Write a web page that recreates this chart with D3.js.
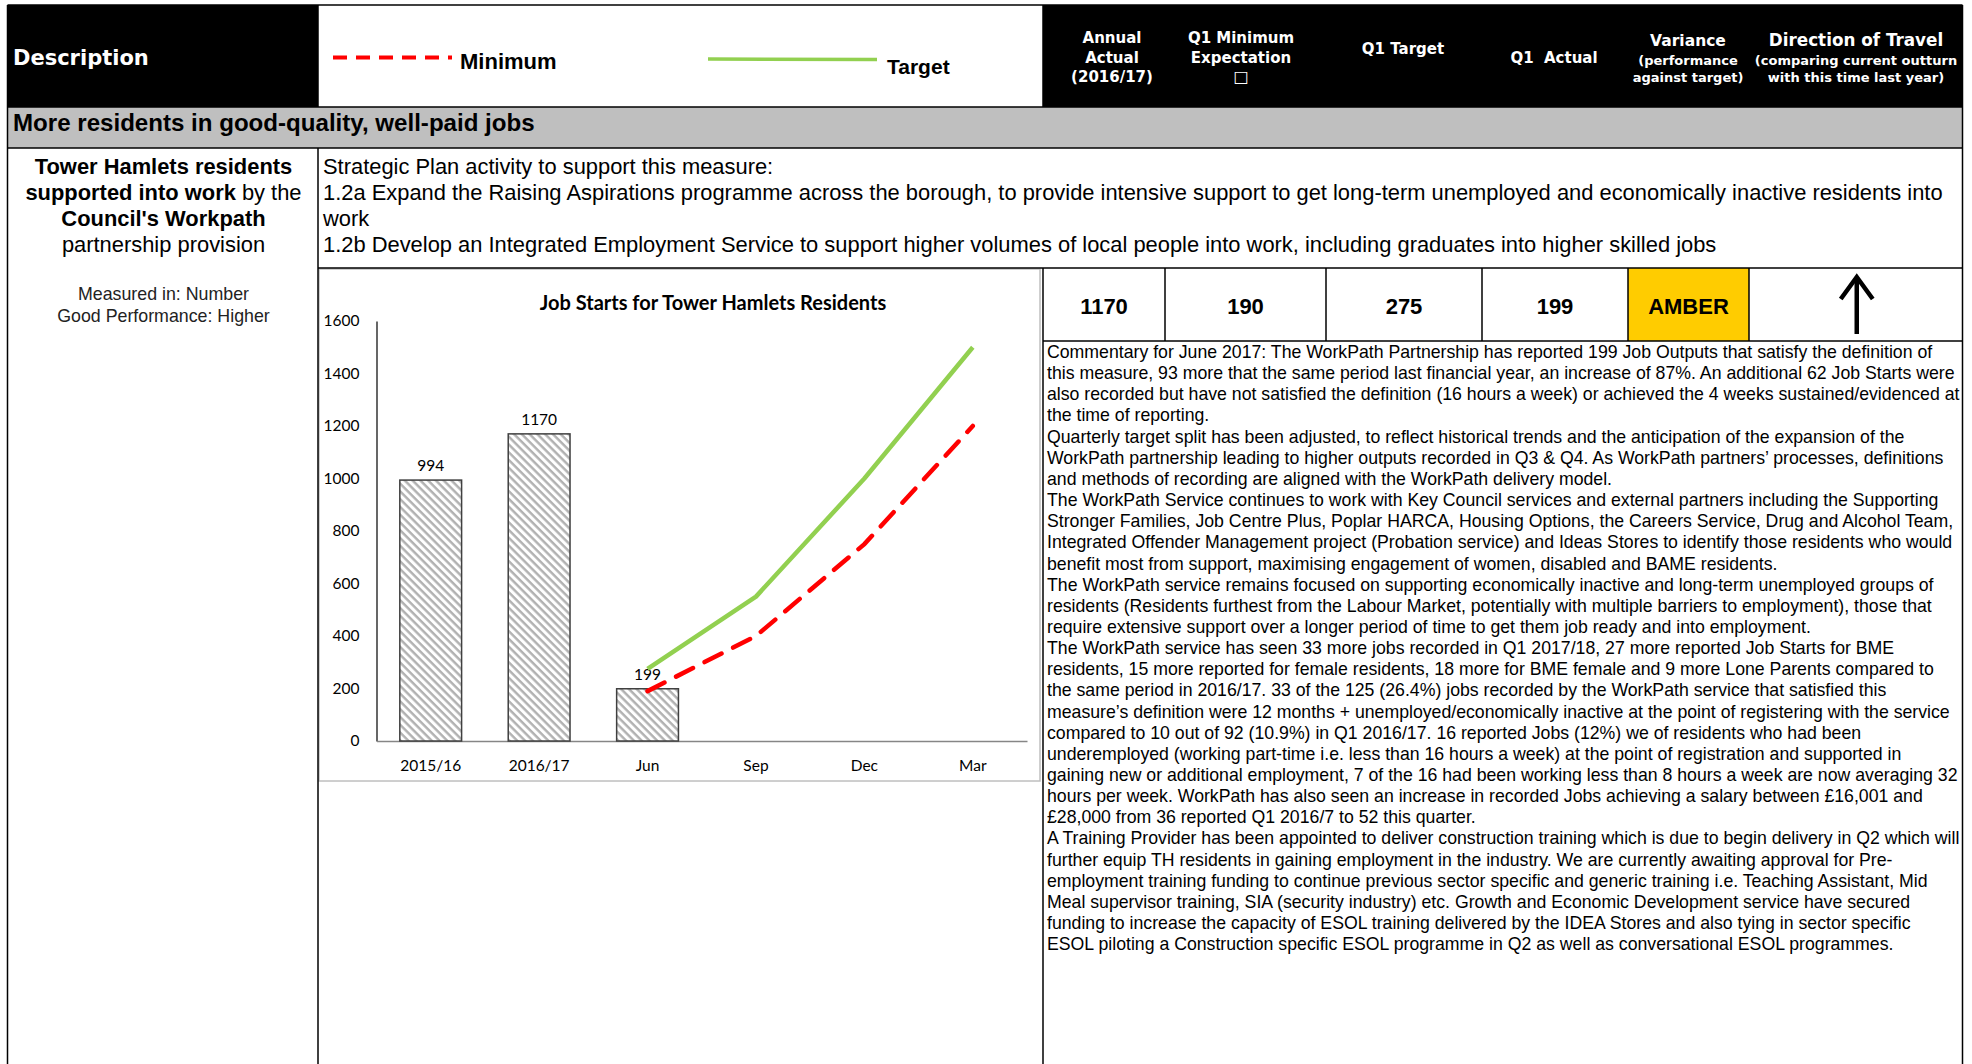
<!DOCTYPE html>
<html><head><meta charset="utf-8">
<script src="https://d3js.org/d3.v7.min.js"></script>
<style>
html,body{margin:0;padding:0;background:#fff;}
svg{display:block;}
</style></head>
<body>
<svg id="page" width="1972" height="1064"></svg>
<script>
// ---------- DATA ----------
const categories = ["2015/16", "2016/17", "Jun", "Sep", "Dec", "Mar"];
const actualValues = [994, 1170, 199, null, null, null];
const targetValues = [null, null, 275, 550, 1000, 1500];
const minimumValues = [null, null, 190, 400, 750, 1200];
const yTicks = [0, 200, 400, 600, 800, 1000, 1200, 1400, 1600];
const chartTitle = "Job Starts for Tower Hamlets Residents";

const metricValues = ["1170", "190", "275", "199", "AMBER"];

const commentaryLines = [
"Commentary for June 2017: The WorkPath Partnership has reported 199 Job Outputs that satisfy the definition of",
"this measure, 93 more that the same period last financial year, an increase of 87%. An additional 62 Job Starts were",
"also recorded but have not satisfied the definition (16 hours a week) or achieved the 4 weeks sustained/evidenced at",
"the time of reporting.",
"Quarterly target split has been adjusted, to reflect historical trends and the anticipation of the expansion of the",
"WorkPath partnership leading to higher outputs recorded in Q3 & Q4. As WorkPath partners\u2019 processes, definitions",
"and methods of recording are aligned with the WorkPath delivery model.",
"The WorkPath Service continues to work with Key Council services and external partners including the Supporting",
"Stronger Families, Job Centre Plus, Poplar HARCA, Housing Options, the Careers Service, Drug and Alcohol Team,",
"Integrated Offender Management project (Probation service) and Ideas Stores to identify those residents who would",
"benefit most from support, maximising engagement of women, disabled and BAME residents.",
"The WorkPath service remains focused on supporting economically inactive and long-term unemployed groups of",
"residents (Residents furthest from the Labour Market, potentially with multiple barriers to employment), those that",
"require extensive support over a longer period of time to get them job ready and into employment.",
"The WorkPath service has seen 33 more jobs recorded in Q1 2017/18, 27 more reported Job Starts for BME",
"residents, 15 more reported for female residents, 18 more for BME female and 9 more Lone Parents compared to",
"the same period in 2016/17. 33 of the 125 (26.4%) jobs recorded by the WorkPath service that satisfied this",
"measure\u2019s definition were 12 months + unemployed/economically inactive at the point of registering with the service",
"compared to 10 out of 92 (10.9%) in Q1 2016/17. 16 reported Jobs (12%) we of residents who had been",
"underemployed (working part-time i.e. less than 16 hours a week) at the point of registration and supported in",
"gaining new or additional employment, 7 of the 16 had been working less than 8 hours a week are now averaging 32",
"hours per week. WorkPath has also seen an increase in recorded Jobs achieving a salary between \u00a316,001 and",
"\u00a328,000 from 36 reported Q1 2016/7 to 52 this quarter.",
"A Training Provider has been appointed to deliver construction training which is due to begin delivery in Q2 which will",
"further equip TH residents in gaining employment in the industry. We are currently awaiting approval for Pre-",
"employment training funding to continue previous sector specific and generic training i.e. Teaching Assistant, Mid",
"Meal supervisor training, SIA (security industry) etc. Growth and Economic Development service have secured",
"funding to increase the capacity of ESOL training delivered by the IDEA Stores and also tying in sector specific",
"ESOL piloting a Construction specific ESOL programme in Q2 as well as conversational ESOL programmes."
];

const strategicLines = [
"Strategic Plan activity to support this measure:",
"1.2a Expand the Raising Aspirations programme across the borough, to provide intensive support to get long-term unemployed and economically inactive residents into",
"work",
"1.2b Develop an Integrated Employment Service to support higher volumes of local people into work, including graduates into higher skilled jobs"
];

// ---------- PAGE ----------
const svg = d3.select("#page");
const ARIAL = "'Liberation Sans', Arial, sans-serif";
const VERD = "'DejaVu Sans', Verdana, sans-serif";
const CAL = "Lato, 'Open Sans', sans-serif";

const L = 7.5, R = 1962.5, T = 5;
const xDesc = 318, xRight = 1043;
const yHead = 107, yBand = 148, yStrat = 268, yMetric = 341;

// header backgrounds
svg.append("rect").attr("x", L).attr("y", T).attr("width", xDesc - L).attr("height", yHead - T).attr("fill", "#000");
svg.append("rect").attr("x", xRight).attr("y", T).attr("width", R - xRight).attr("height", yHead - T).attr("fill", "#000");
svg.append("rect").attr("x", L).attr("y", yHead).attr("width", R - L).attr("height", yBand - yHead).attr("fill", "#bfbfbf");

svg.append("text").attr("x", 13).attr("y", 65).attr("fill", "#fff")
  .style("font-family", VERD).style("font-weight", "bold").style("font-size", "21px").text("Description");

// legend inside header
svg.append("line").attr("x1", 333).attr("x2", 452).attr("y1", 57.5).attr("y2", 57.5)
  .attr("stroke", "#ff0000").attr("stroke-width", 4).attr("stroke-dasharray", "14 9");
svg.append("text").attr("x", 460).attr("y", 69).style("font-family", ARIAL).style("font-weight", "bold")
  .style("font-size", "22px").text("Minimum");
svg.append("line").attr("x1", 708).attr("x2", 877).attr("y1", 59).attr("y2", 59.5)
  .attr("stroke", "#92d050").attr("stroke-width", 3.5);
svg.append("text").attr("x", 887).attr("y", 74).style("font-family", ARIAL).style("font-weight", "bold")
  .style("font-size", "21px").text("Target");

// metric column headers
const cellX = [1043, 1165, 1326, 1482, 1628, 1749, 1962.5];
const hdr = [
  {lines: [["Annual", 15], ["Actual", 15], ["(2016/17)", 15]], ys: [43, 63, 82]},
  {lines: [["Q1 Minimum", 15], ["Expectation", 15], ["\u25a1", 16]], ys: [43, 63, 82]},
  {lines: [["Q1 Target", 15]], ys: [54]},
  {lines: [["Q1  Actual", 15]], ys: [63]},
  {lines: [["Variance", 15.5], ["(performance", 13], ["against target)", 13]], ys: [46, 65, 82]},
  {lines: [["Direction of Travel", 16.8], ["(comparing current outturn", 13], ["with this time last year)", 13]], ys: [46, 65, 82]}
];
const hdrCx = [1112, 1241, 1403, 1554, 1688, 1856];
hdr.forEach((h, i) => {
  h.lines.forEach((ln, j) => {
    svg.append("text").attr("x", hdrCx[i]).attr("y", h.ys[j]).attr("text-anchor", "middle")
      .attr("fill", "#fff").style("font-family", VERD).style("font-weight", "bold")
      .style("font-size", ln[1] + "px").style("white-space", "pre").attr("xml:space", "preserve").text(ln[0]);
  });
});

// section title
svg.append("text").attr("x", 13).attr("y", 131).style("font-family", ARIAL).style("font-weight", "bold")
  .style("font-size", "24.1px").text("More residents in good-quality, well-paid jobs");

// left column description
const leftCx = 163.5;
const leftText = [
  [["Tower Hamlets residents", true]],
  [["supported into work", true], [" by the", false]],
  [["Council's Workpath", true]],
  [["partnership provision", false]]
];
leftText.forEach((parts, i) => {
  const t = svg.append("text").attr("x", leftCx).attr("y", 174 + i * 26).attr("text-anchor", "middle")
    .style("font-family", ARIAL).style("font-size", "21.9px").attr("xml:space", "preserve");
  parts.forEach(p => t.append("tspan").style("font-weight", p[1] ? "bold" : "normal").text(p[0]));
});
["Measured in: Number", "Good Performance: Higher"].forEach((s, i) => {
  svg.append("text").attr("x", leftCx).attr("y", 300 + i * 21.5).attr("text-anchor", "middle")
    .style("font-family", ARIAL).style("font-size", "17.8px").attr("fill", "#222").text(s);
});

// strategic plan text
strategicLines.forEach((s, i) => {
  svg.append("text").attr("x", 323).attr("y", 174 + i * 26)
    .style("font-family", ARIAL).style("font-size", "21.9px").text(s);
});

// metrics row
svg.append("rect").attr("x", cellX[4]).attr("y", yStrat).attr("width", cellX[5] - cellX[4]).attr("height", yMetric - yStrat)
  .attr("fill", "#ffcc00");
metricValues.forEach((v, i) => {
  svg.append("text").attr("x", (cellX[i] + cellX[i + 1]) / 2).attr("y", 313.5).attr("text-anchor", "middle")
    .style("font-family", ARIAL).style("font-weight", "bold").style("font-size", "22px").text(v);
});
// direction arrow
const ax = (cellX[5] + cellX[6]) / 2 + 1;
svg.append("line").attr("x1", ax).attr("x2", ax).attr("y1", 277).attr("y2", 334).attr("stroke", "#000").attr("stroke-width", 4.5);
svg.append("path").attr("d", `M${ax - 16},${299} L${ax},${277} L${ax + 16},${299}`)
  .attr("fill", "none").attr("stroke", "#000").attr("stroke-width", 4.5).attr("stroke-linejoin", "miter");

// commentary
commentaryLines.forEach((s, i) => {
  svg.append("text").attr("x", 1047).attr("y", 358 + i * 21.15)
    .style("font-family", ARIAL).style("font-size", "17.7px").text(s);
});

// ---------- CHART ----------
const chartBox = {x: 319, y: 269, w: 721, h: 512};
svg.append("rect").attr("x", chartBox.x).attr("y", chartBox.y).attr("width", chartBox.w).attr("height", chartBox.h)
  .attr("fill", "#fff").attr("stroke", "#bfbfbf").attr("stroke-width", 1.5);

const defs = svg.append("defs");
const pat = defs.append("pattern").attr("id", "hatch").attr("patternUnits", "userSpaceOnUse")
  .attr("width", 5.5).attr("height", 5.5).attr("patternTransform", "rotate(-45)");
pat.append("rect").attr("width", 5.5).attr("height", 5.5).attr("fill", "#fff");
pat.append("line").attr("x1", 1.5).attr("x2", 1.5).attr("y1", 0).attr("y2", 5.5).attr("stroke", "#b0b0b0").attr("stroke-width", 2.4);

const x = d3.scaleBand().domain(categories).range([376.5, 1027]).paddingInner(0.43).paddingOuter(0.215);
const y = d3.scaleLinear().domain([0, 1600]).range([741, 321]);
const g = svg.append("g");

// y axis
const yAxis = g.append("g").attr("transform", "translate(376.5,0)")
  .call(d3.axisLeft(y).tickValues(yTicks).tickFormat(d3.format("d")).tickSize(0).tickPadding(17));
yAxis.select(".domain").attr("stroke", "#000").attr("stroke-width", 1.2);
yAxis.selectAll("text").style("font-family", CAL).style("font-size", "15.5px").attr("fill", "#000");

// x axis
const xAxis = g.append("g").attr("transform", "translate(0,741)")
  .call(d3.axisBottom(x).tickSize(0).tickPadding(19));
xAxis.select(".domain").attr("stroke", "#868686").attr("stroke-width", 1.5);
xAxis.selectAll("text").style("font-family", CAL).style("font-size", "15.5px").attr("fill", "#000");

// bars
const barData = categories.map((c, i) => ({c, v: actualValues[i]})).filter(d => d.v != null);
g.selectAll("rect.bar").data(barData).join("rect").attr("class", "bar")
  .attr("x", d => x(d.c)).attr("width", x.bandwidth())
  .attr("y", d => y(d.v)).attr("height", d => y(0) - y(d.v))
  .attr("fill", "url(#hatch)").attr("stroke", "#404040").attr("stroke-width", 1.5);
g.selectAll("text.blab").data(barData).join("text").attr("class", "blab")
  .attr("x", d => x(d.c) + x.bandwidth() / 2).attr("y", d => y(d.v) - 9).attr("text-anchor", "middle")
  .style("font-family", CAL).style("font-size", "15.5px").text(d => d.v);

// lines
const line = d3.line().defined(d => d.v != null).x(d => x(d.c) + x.bandwidth() / 2).y(d => y(d.v));
g.append("path").datum(categories.map((c, i) => ({c, v: targetValues[i]})))
  .attr("d", line).attr("fill", "none").attr("stroke", "#92d050").attr("stroke-width", 4.5).attr("stroke-linejoin", "round");
g.append("path").datum(categories.map((c, i) => ({c, v: minimumValues[i]})))
  .attr("d", line).attr("fill", "none").attr("stroke", "#ff0000").attr("stroke-width", 4.5)
  .attr("stroke-dasharray", "19 13").attr("stroke-linecap", "round");

svg.append("text").attr("x", 713).attr("y", 310).attr("text-anchor", "middle")
  .style("font-family", CAL).style("font-weight", "bold").style("font-size", "20px").text(chartTitle);

// ---------- TABLE GRID LINES ----------
const gl = svg.append("g").attr("stroke", "#000").attr("stroke-width", 1.5);
gl.append("line").attr("x1", L).attr("x2", R).attr("y1", T).attr("y2", T);
gl.append("line").attr("x1", L).attr("x2", L).attr("y1", T).attr("y2", 1064);
gl.append("line").attr("x1", R).attr("x2", R).attr("y1", T).attr("y2", 1064);
gl.append("line").attr("x1", L).attr("x2", R).attr("y1", yHead).attr("y2", yHead);
gl.append("line").attr("x1", L).attr("x2", R).attr("y1", yBand).attr("y2", yBand);
gl.append("line").attr("x1", xDesc).attr("x2", xDesc).attr("y1", T).attr("y2", yHead);
gl.append("line").attr("x1", xDesc).attr("x2", xDesc).attr("y1", yBand).attr("y2", 1064);
gl.append("line").attr("x1", xRight).attr("x2", xRight).attr("y1", T).attr("y2", yHead);
gl.append("line").attr("x1", xRight).attr("x2", xRight).attr("y1", yStrat).attr("y2", 1064);
gl.append("line").attr("x1", xDesc).attr("x2", R).attr("y1", yStrat).attr("y2", yStrat);
gl.append("line").attr("x1", xRight).attr("x2", R).attr("y1", yMetric).attr("y2", yMetric);
cellX.slice(1, 6).forEach(cx => gl.append("line").attr("x1", cx).attr("x2", cx).attr("y1", yStrat).attr("y2", yMetric));
</script>
</body></html>
